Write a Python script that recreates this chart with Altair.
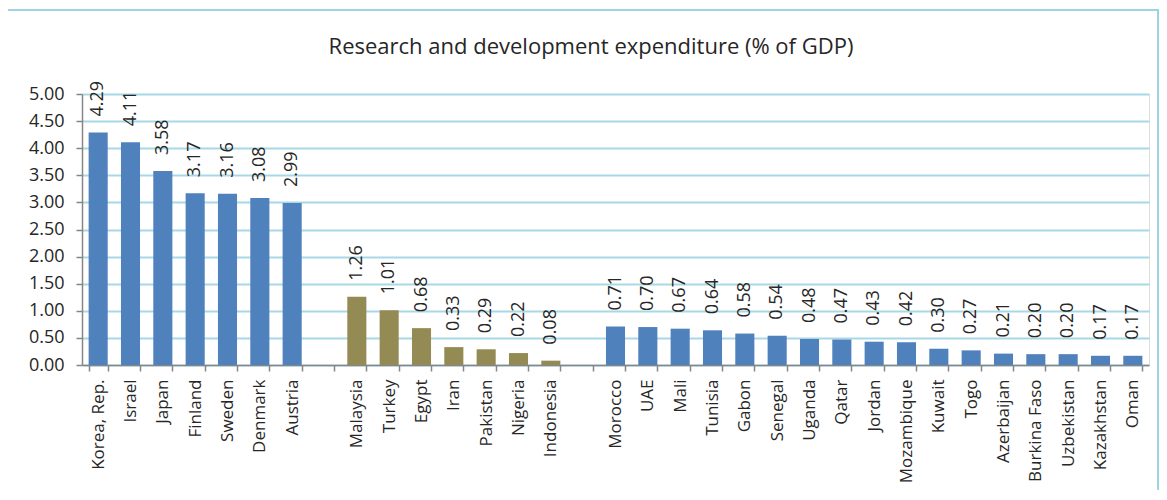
import altair as alt
import pandas as pd

countries = ["Korea, Rep.", "Israel", "Japan", "Finland", "Sweden", "Denmark", "Austria", " ",
             "Malaysia", "Turkey", "Egypt", "Iran", "Pakistan", "Nigeria", "Indonesia", "  ",
             "Morocco", "UAE", "Mali", "Tunisia", "Gabon", "Senegal", "Uganda", "Qatar", "Jordan",
             "Mozambique", "Kuwait", "Togo", "Azerbaijan", "Burkina Faso", "Uzbekistan", "Kazakhstan", "Oman"]
values = [4.29, 4.11, 3.58, 3.17, 3.16, 3.08, 2.99, None,
          1.26, 1.01, 0.68, 0.33, 0.29, 0.22, 0.08, None,
          0.71, 0.70, 0.67, 0.64, 0.58, 0.54, 0.48, 0.47, 0.43,
          0.42, 0.30, 0.27, 0.21, 0.20, 0.20, 0.17, 0.17]
groups = ["A"] * 7 + ["gap"] + ["B"] * 7 + ["gap"] + ["A"] * 17
y_ticks = [0.0, 0.5, 1.0, 1.5, 2.0, 2.5, 3.0, 3.5, 4.0, 4.5, 5.0]
title_text = "Research and development expenditure (% of GDP)"

df = pd.DataFrame({"country": countries, "value": values, "group": groups})

FONT = "Open Sans"
TXT = "#262626"

xscale = alt.Scale(domain=countries, paddingInner=0.41, paddingOuter=0.205)
yscale = alt.Scale(domain=[0, 5], nice=False)

xaxis = alt.Axis(labelAngle=-90, labelAlign="right", labelBaseline="middle",
                 tickBand="extent", tickSize=6, tickColor="#868686",
                 domainColor="#868686", domainWidth=1.5, tickWidth=1.5,
                 labelPadding=8, labelFontSize=17, labelFont=FONT, labelColor=TXT,
                 labelOverlap=False)
yaxis = alt.Axis(values=y_ticks, tickCount=40, format=".2f", tickSize=6, tickColor="#868686",
                 domainColor="#868686", domainWidth=1.5, tickWidth=1.5,
                 gridColor="#A8D8E6", gridWidth=2, labelPadding=12, labelOverlap=False,
                 labelFontSize=18, labelFont=FONT, labelColor=TXT)

base = alt.Chart(df)

border = base.mark_rect(fill=None, stroke="#9DD3E2", strokeWidth=2, clip=False).encode(
    x=alt.value(-75), x2=alt.value(1076), y=alt.value(-84), y2=alt.value(420)
).transform_filter("datum.country == 'Israel'")

title = base.mark_text(text=title_text, font=FONT, fontSize=22, color=TXT,
                       align="center", baseline="middle").encode(
    x=alt.value(509), y=alt.value(-47)
).transform_filter("datum.country == 'Israel'")

bars = base.mark_bar().encode(
    x=alt.X("country:N", sort=countries, title=None, scale=xscale, axis=xaxis),
    y=alt.Y("value:Q", title=None, scale=yscale, axis=yaxis),
    color=alt.Color("group:N", scale=alt.Scale(domain=["A", "B"], range=["#4F81BD", "#948A54"]),
                    legend=None),
).transform_filter("datum.value != null")

labels = base.mark_text(angle=270, align="left", baseline="middle", dx=16,
                        font=FONT, fontSize=18, color=TXT).encode(
    x=alt.X("country:N", sort=countries, title=None, scale=xscale, axis=xaxis),
    y=alt.Y("value:Q", title=None, scale=yscale, axis=yaxis),
    text=alt.Text("value:Q", format=".2f"),
).transform_filter("datum.value != null")

chart = alt.layer(border, title, bars, labels).properties(
    width=1067, height=271,
    autosize=alt.AutoSizeParams(type="none"),
    padding={"left": 74, "top": 86, "right": 10, "bottom": 125},
).configure_view(strokeWidth=0).configure(background="white")

chart.save("out.html", embed_options={"renderer": "svg", "actions": False})
